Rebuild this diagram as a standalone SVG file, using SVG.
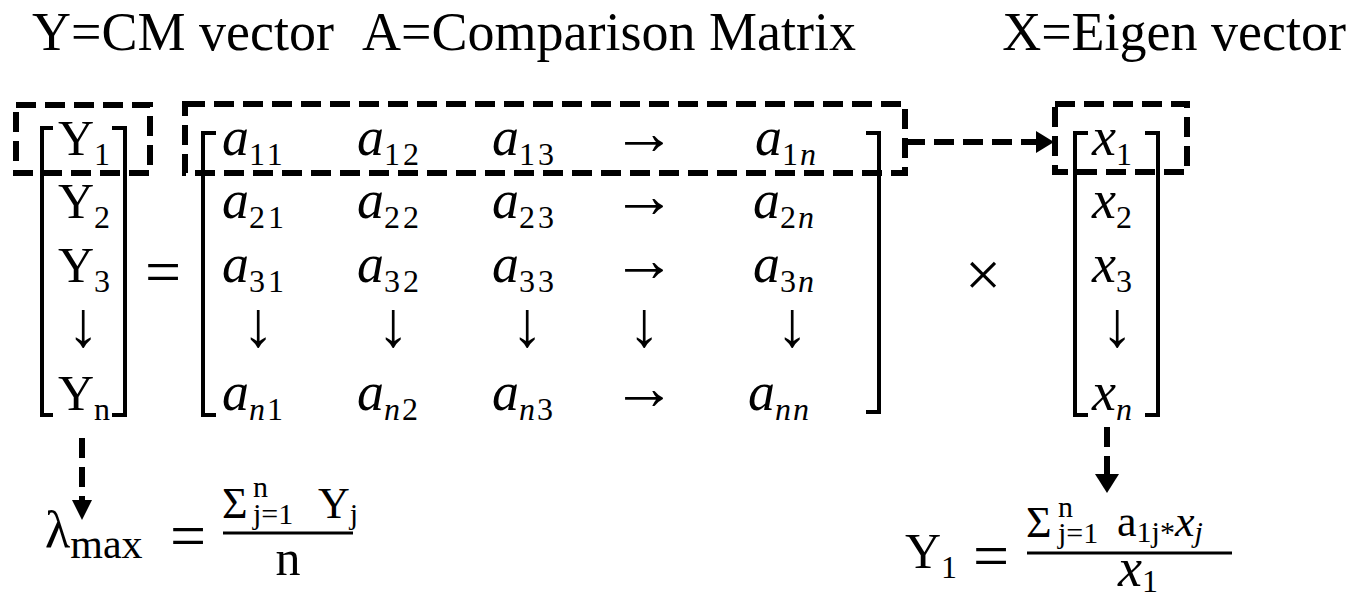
<svg xmlns="http://www.w3.org/2000/svg" width="1358" height="602" viewBox="0 0 1358 602">
<style>
text{font-family:"Liberation Serif","Times New Roman",serif;fill:#000}
.t{font-size:54px}
.m{font-size:50px}
.i{font-style:italic;font-size:54px}
.s{font-size:32px}
.si{font-size:32px;font-style:italic}
.ar{font-size:64px;text-anchor:middle}
.br{fill:none;stroke:#000;stroke-width:4}
.dash{fill:none;stroke:#000;stroke-width:6;stroke-dasharray:20 9}
.fb{stroke:#000;stroke-width:3}
</style>
<rect width="1358" height="602" fill="#fff"/>
<g id="titles">
<text class="t" x="32" y="50">Y=CM vector</text>
<text class="t" x="362" y="50">A=Comparison Matrix</text>
<text class="t" x="1346" y="50" text-anchor="end">X=Eigen vector</text>
</g>
<g id="vecY">
<path class="br" d="M53,128 H42 V415 H53 M112,128 H125 V415 H112"/>
<text class="m" x="58" y="155">Y<tspan class="s" dy="10">1</tspan></text>
<text class="m" x="58" y="218">Y<tspan class="s" dy="10">2</tspan></text>
<text class="m" x="58" y="282">Y<tspan class="s" dy="10">3</tspan></text>
<text class="ar" x="83" y="346">↓</text>
<text class="m" x="58" y="410">Y<tspan class="s" dy="10">n</tspan></text>
</g>
<g id="eq1"><text x="163" y="293" font-size="64" text-anchor="middle">=</text></g>
<g id="matA">
<path class="br" d="M216,133 H203 V415 H216 M866,133 H879 V412 H866"/>
<text x="222" y="155"><tspan class="i">a</tspan><tspan class="s" dy="10" letter-spacing="3">11</tspan></text>
<text x="357" y="155"><tspan class="i">a</tspan><tspan class="s" dy="10" letter-spacing="3">12</tspan></text>
<text x="492" y="155"><tspan class="i">a</tspan><tspan class="s" dy="10" letter-spacing="3">13</tspan></text>
<text class="ar" x="644" y="154">→</text>
<text x="755" y="155"><tspan class="i">a</tspan><tspan class="s" dy="10" letter-spacing="2">1</tspan><tspan class="si">n</tspan></text>
<text x="222" y="218"><tspan class="i">a</tspan><tspan class="s" dy="10" letter-spacing="3">21</tspan></text>
<text x="357" y="218"><tspan class="i">a</tspan><tspan class="s" dy="10" letter-spacing="3">22</tspan></text>
<text x="492" y="218"><tspan class="i">a</tspan><tspan class="s" dy="10" letter-spacing="3">23</tspan></text>
<text class="ar" x="644" y="217">→</text>
<text x="753" y="218"><tspan class="i">a</tspan><tspan class="s" dy="10" letter-spacing="2">2</tspan><tspan class="si">n</tspan></text>
<text x="222" y="282"><tspan class="i">a</tspan><tspan class="s" dy="10" letter-spacing="3">31</tspan></text>
<text x="357" y="282"><tspan class="i">a</tspan><tspan class="s" dy="10" letter-spacing="3">32</tspan></text>
<text x="492" y="282"><tspan class="i">a</tspan><tspan class="s" dy="10" letter-spacing="3">33</tspan></text>
<text class="ar" x="644" y="281">→</text>
<text x="753" y="282"><tspan class="i">a</tspan><tspan class="s" dy="10" letter-spacing="2">3</tspan><tspan class="si">n</tspan></text>
<text class="ar" x="258" y="346">↓</text>
<text class="ar" x="393" y="346">↓</text>
<text class="ar" x="527" y="346">↓</text>
<text class="ar" x="644" y="346">↓</text>
<text class="ar" x="792" y="346">↓</text>
<text x="222" y="410"><tspan class="i">a</tspan><tspan class="si" dy="10" letter-spacing="2">n</tspan><tspan class="s">1</tspan></text>
<text x="357" y="410"><tspan class="i">a</tspan><tspan class="si" dy="10" letter-spacing="2">n</tspan><tspan class="s">2</tspan></text>
<text x="492" y="410"><tspan class="i">a</tspan><tspan class="si" dy="10" letter-spacing="2">n</tspan><tspan class="s">3</tspan></text>
<text class="ar" x="644" y="409">→</text>
<text x="748" y="410"><tspan class="i">a</tspan><tspan class="si" dy="10" letter-spacing="2">nn</tspan></text>
</g>
<g id="times"><text x="983" y="296" font-size="64" text-anchor="middle">×</text></g>
<g id="vecX">
<path class="br" d="M1088,133 H1075 V415 H1088 M1145,133 H1158 V415 H1145"/>
<text x="1092" y="155"><tspan class="i">x</tspan><tspan class="s" dy="10">1</tspan></text>
<text x="1092" y="218"><tspan class="i">x</tspan><tspan class="s" dy="10">2</tspan></text>
<text x="1092" y="282"><tspan class="i">x</tspan><tspan class="s" dy="10">3</tspan></text>
<text class="ar" x="1117" y="346">↓</text>
<text x="1092" y="410"><tspan class="i">x</tspan><tspan class="si" dy="10">n</tspan></text>
</g>
<g id="boxes">
<rect class="dash" x="16" y="105" width="134" height="68"/>
<rect class="dash" x="185" y="104" width="720" height="69"/>
<rect class="dash" x="1055" y="104" width="132" height="68"/>
</g>
<g id="connectors">
<line class="dash" x1="905" y1="142" x2="1040" y2="142"/>
<polygon points="1036,131 1054,142 1036,153"/>
<line class="dash" x1="82" y1="438" x2="82" y2="503"/>
<polygon points="72,500 92,500 82,520"/>
<line class="dash" x1="1107" y1="427" x2="1107" y2="477"/>
<polygon points="1095,474 1119,474 1107,493"/>
</g>
<g id="lambda">
<text x="45" y="547" font-size="52">λ<tspan font-size="42" dy="11">max</tspan></text>
<text x="188" y="557" font-size="64" text-anchor="middle">=</text>
<line class="fb" x1="223" y1="533" x2="353" y2="533"/>
<text font-size="44" x="222" y="518">Σ</text>
<text font-size="30" x="253" y="497">n</text>
<text font-size="30" x="253" y="524">j=1</text>
<text font-size="44" x="318" y="518">Y<tspan font-size="30" dy="6">j</tspan></text>
<text x="288" y="575" font-size="50" text-anchor="middle">n</text>
</g>
<g id="y1formula">
<text class="m" x="905" y="568">Y<tspan class="s" dy="10">1</tspan></text>
<text x="991" y="577" font-size="64" text-anchor="middle">=</text>
<line class="fb" x1="1027" y1="553" x2="1232" y2="553"/>
<text font-size="44" x="1026" y="537">Σ</text>
<text font-size="30" x="1058" y="517">n</text>
<text font-size="30" x="1058" y="543">j=1</text>
<text font-size="44" x="1117" y="536">a<tspan font-size="30" dy="6">1j</tspan><tspan font-size="30">*</tspan><tspan font-style="italic" dy="-6">x</tspan><tspan font-size="30" font-style="italic" dy="6">j</tspan></text>
<text x="1118" y="586"><tspan class="i">x</tspan><tspan class="s" dy="6">1</tspan></text>
</g>
</svg>
